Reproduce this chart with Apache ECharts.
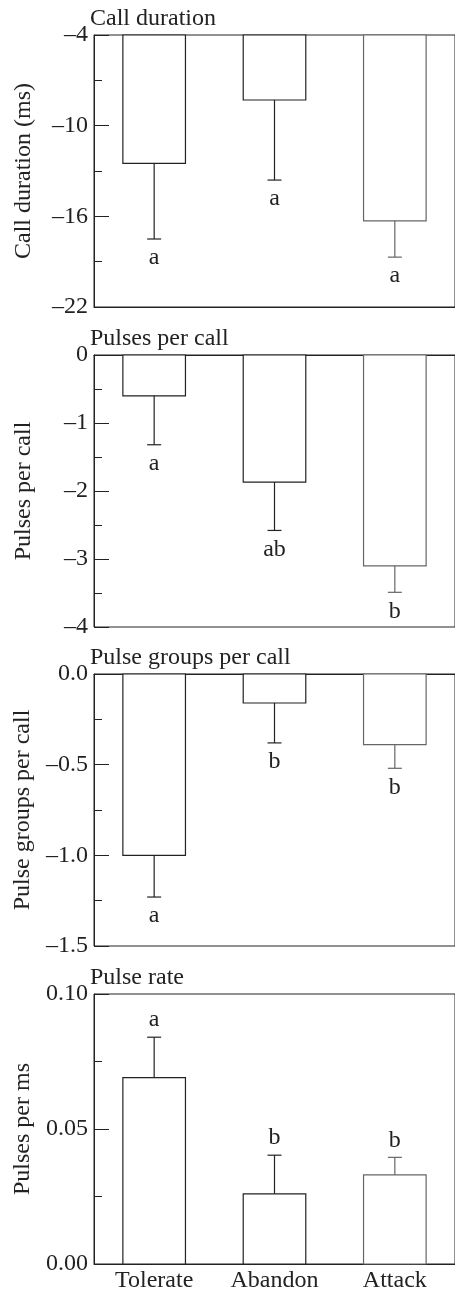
<!DOCTYPE html>
<html>
<head>
<meta charset="utf-8">
<script src="https://cdn.jsdelivr.net/npm/echarts@6/dist/echarts.min.js"></script>
<style>
html,body{margin:0;padding:0;background:#fff;}
#chart{width:455px;height:1293px;}
</style>
</head>
<body>
<div id="chart"></div>
<script>
// ---- data ----
const categories = ['Tolerate', 'Abandon', 'Attack'];
const panelTitles = ['Call duration', 'Pulses per call', 'Pulse groups per call', 'Pulse rate'];
const axisNames = ['Call duration (ms)', 'Pulses per call', 'Pulse groups per call', 'Pulses per ms'];

const durationMeans = [-12.5, -8.3, -16.3];
const durationSE = [5.0, 5.3, 2.4];
const durationLetters = ['a', 'a', 'a'];

const pulsesMeans = [-0.6, -1.87, -3.1];
const pulsesSE = [0.72, 0.71, 0.39];
const pulsesLetters = ['a', 'ab', 'b'];

const groupsMeans = [-1.0, -0.16, -0.39];
const groupsSE = [0.23, 0.22, 0.13];
const groupsLetters = ['a', 'b', 'b'];

const rateMeans = [0.069, 0.026, 0.033];
const rateSE = [0.015, 0.0143, 0.0065];
const rateLetters = ['a', 'b', 'b'];

const yMins = [-22, -4, -1.5, 0];
const yMaxs = [-4, 0, 0, 0.1];
const majorTicks = [[-22, -16, -10, -4], [-4, -3, -2, -1, 0], [-1.5, -1.0, -0.5, 0], [0, 0.05, 0.1]];
const minorTicks = [[-19, -13, -7], [-3.5, -2.5, -1.5, -0.5], [-1.25, -0.75, -0.25], [0.025, 0.075]];
const tickDecimals = [0, 0, 1, 2];

const means = [durationMeans, pulsesMeans, groupsMeans, rateMeans];
const ses = [durationSE, pulsesSE, groupsSE, rateSE];
const letters = [durationLetters, pulsesLetters, groupsLetters, rateLetters];

// ---- layout / style ----
const FONT = 'Liberation Serif';
const FS = 24;
const INK = '#222';
const barStroke = ['#222', '#222', '#666'];
const gridTops = [35, 355, 674, 994];
const gridH = 272;
const gridLeft = 94;
const gridWidth = 365;

const chart = echarts.init(document.getElementById('chart'), null, {renderer: 'canvas'});

const grids = [], xAxes = [], yAxes = [], series = [], titles = [];

for (let p = 0; p < 4; p++) {
  grids.push({
    left: gridLeft, top: gridTops[p], width: gridWidth, height: gridH,
    show: true, borderColor: INK, borderWidth: 1, backgroundColor: 'transparent'
  });
  titles.push({
    text: panelTitles[p], left: 90, top: gridTops[p] - 28, padding: 0,
    textStyle: {fontFamily: FONT, fontSize: FS, fontWeight: 'normal', color: INK}
  });
  xAxes.push({
    type: 'category', gridIndex: p, data: categories, position: 'bottom',
    axisLine: {show: true, lineStyle: {color: INK, width: 1}},
    axisTick: {show: false},
    axisLabel: {show: p === 3, fontFamily: FONT, fontSize: FS, color: INK, margin: 5},
    splitLine: {show: false}
  });
  const dec = tickDecimals[p];
  yAxes.push({
    type: 'value', gridIndex: p, min: yMins[p], max: yMaxs[p], position: 'left',
    name: axisNames[p], nameLocation: 'middle', nameGap: 58, nameRotate: 90,
    nameTextStyle: {fontFamily: FONT, fontSize: FS, color: INK},
    axisLine: {show: true, lineStyle: {color: INK, width: 1}},
    axisTick: {show: true, inside: true, length: 15, customValues: majorTicks[p], lineStyle: {color: INK, width: 1}},
    axisLabel: {
      show: true, customValues: majorTicks[p], fontFamily: FONT, fontSize: FS, color: INK, margin: 6,
      formatter: v => {
        const s = Math.abs(v).toFixed(dec);
        return (v < 0 ? '\u2013' : '') + s;
      }
    },
    splitLine: {show: false}
  });
  yAxes.push({
    type: 'value', gridIndex: p, min: yMins[p], max: yMaxs[p], position: 'left',
    axisLine: {show: false},
    axisTick: {show: true, inside: true, length: 8, customValues: minorTicks[p], lineStyle: {color: INK, width: 1}},
    axisLabel: {show: false, customValues: minorTicks[p]},
    splitLine: {show: false}
  });
  const baseline = Math.min(Math.max(0, yMins[p]), yMaxs[p]);
  const lets = letters[p];
  series.push({
    type: 'custom', xAxisIndex: p, yAxisIndex: 2 * p,
    data: categories.map((c, i) => [i, means[p][i], ses[p][i]]),
    renderItem: (params, api) => {
      const idx = api.value(0), m = api.value(1), se = api.value(2);
      const dir = m < baseline ? -1 : 1;
      const b = api.coord([idx, baseline]);
      const t = api.coord([idx, m]);
      const e = api.coord([idx, m + dir * se]);
      const bw = api.size([1, 0])[0] * 0.52;
      const x0 = b[0] - bw / 2;
      const cap = 7;
      const below = dir < 0;
      const col = barStroke[params.dataIndex];
      return {
        type: 'group',
        children: [
          {type: 'rect', shape: {x: x0, y: Math.min(b[1], t[1]), width: bw, height: Math.abs(t[1] - b[1])},
           style: {fill: '#fff', stroke: col, lineWidth: 1.2}},
          {type: 'line', shape: {x1: t[0], y1: t[1], x2: e[0], y2: e[1]}, style: {stroke: col, lineWidth: 1.2}},
          {type: 'line', shape: {x1: e[0] - cap, y1: e[1], x2: e[0] + cap, y2: e[1]}, style: {stroke: col, lineWidth: 1.2}},
          {type: 'text', x: e[0], y: below ? e[1] + 7 : e[1] - 5,
           style: {text: lets[params.dataIndex], fontFamily: FONT, fontSize: FS, fill: INK,
                   align: 'center', verticalAlign: below ? 'top' : 'bottom'}}
        ]
      };
    }
  });
}

chart.setOption({
  animation: false,
  backgroundColor: '#fff',
  title: titles,
  grid: grids,
  xAxis: xAxes,
  yAxis: yAxes,
  series: series
});
</script>
</body>
</html>
